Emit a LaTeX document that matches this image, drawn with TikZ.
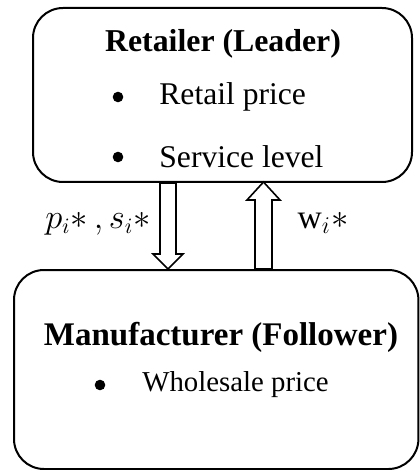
\documentclass[tikz,border=0pt]{standalone}
\usepackage{fontspec}
\setmainfont{Liberation Serif}
\tikzset{
	box/.style={draw, line width=1pt, rounded corners=15pt},
	blockarrow/.style={draw, line width=0.8pt, fill=white},
	dot/.style={circle, fill, inner sep=0pt, minimum size=5.3pt},
	item/.style={anchor=west, inner sep=0pt}
}
\begin{document}
\begin{tikzpicture}[x=0.5pt,y=-0.5pt]
		\useasboundingbox (0,0) rectangle (419,470);
		%boxes
		\node[box, minimum width=189.5pt, minimum height=87pt] (ret) at (222.5,95) {};
		\node[box, minimum width=202.2pt, minimum height=99.5pt] (man) at (216.2,369.5) {};
		
		%retailer text
		\node[font=\fontsize{15.9}{19}\selectfont\bfseries] (rtitle) at (223,44) {Retailer (Leader)};
		\node[dot] (rdot1) at (118,97) {};
		\node[item, font=\fontsize{15.8}{19}\selectfont] (rprice) at (159,97) {Retail price};
		\node[dot] (rdot2) at (118,157) {};
		\node[item, font=\fontsize{15.8}{19}\selectfont] (rservice) at (159,157) {Service level};
		
		%manufacturer text
		\node[font=\fontsize{16.5}{20}\selectfont\bfseries] (mtitle) at (221,337) {Manufacturer (Follower)};
		\node[dot] (mdot) at (100,385) {};
		\node[item, font=\fontsize{14.4}{17}\selectfont] (mprice) at (142,385) {Wholesale price};
		
		%arrows
		\draw[blockarrow] (ret.south) ++(-62.5,0) -- ++(0,71) -- ++(-7,0) -- ++(15,15) -- ++(15,-15) -- ++(-7,0) -- ++(0,-71) -- cycle;
		\draw[blockarrow] (man.north) ++(38.8,0) -- ++(0,-69) -- ++(-8,0) -- ++(16.5,-18) -- ++(16.5,18) -- ++(-8,0) -- ++(0,69) -- cycle;
		\node[font=\fontsize{16.2}{19}\selectfont] (down) at (98,224) {$p_i*\,,s_i*$};
		\node[font=\fontsize{16.8}{20}\selectfont] (up) at (323,223) {$\mathrm{w}_i*$};
\end{tikzpicture}
\end{document}
